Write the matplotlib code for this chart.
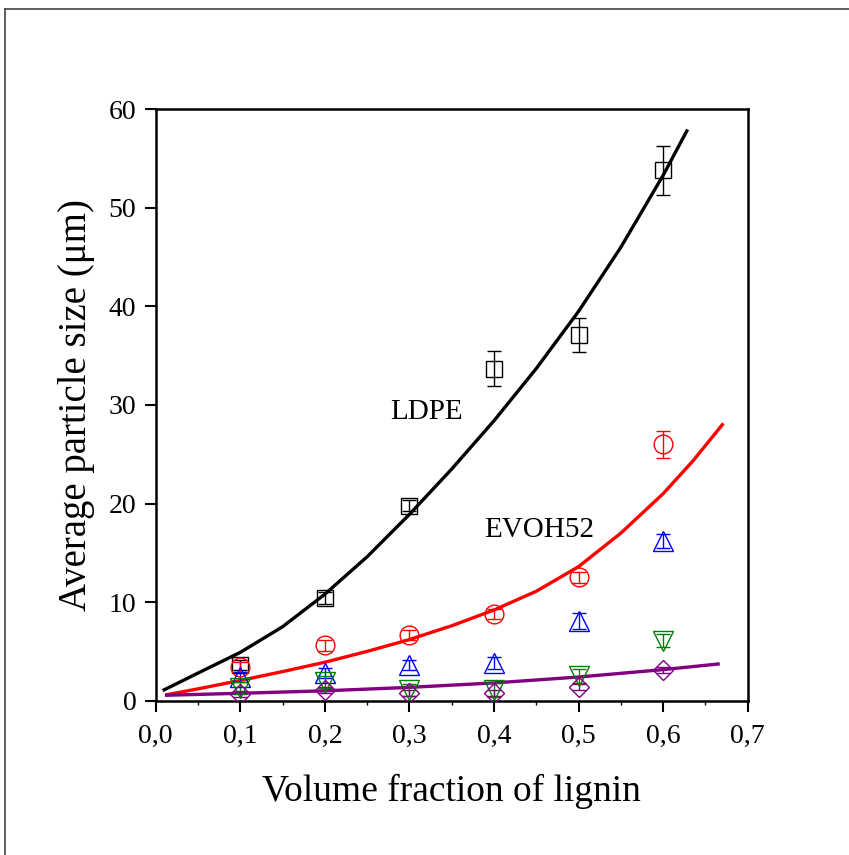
import matplotlib
matplotlib.use('Agg')
import matplotlib.pyplot as plt
from matplotlib.lines import Line2D
import numpy as np

plt.rcParams['font.family'] = ['Liberation Serif', 'DejaVu Serif']

# measured points
frac = [0.1, 0.2, 0.3, 0.4, 0.5, 0.6]

ldpe = [3.6, 10.4, 19.8, 33.7, 37.1, 53.8]
ldpe_err = [0.5, 0.6, 0.6, 1.8, 1.7, 2.45]

evoh = [3.4, 5.6, 6.7, 8.8, 12.5, 26.0]
evoh_err = [0.5, 0.6, 0.5, 0.5, 0.6, 1.35]

blue = [2.4, 2.8, 3.6, 3.85, 8.1, 16.2]
blue_err = [0.5, 0.5, 0.5, 0.6, 0.8, 0.7]

green = [1.3, 1.9, 1.1, 1.1, 2.5, 6.1]
green_err = [0.6, 0.6, 0.6, 0.7, 0.7, 0.7]

purple = [0.7, 1.1, 0.8, 0.8, 1.4, 3.1]
purple_err = [0.3, 0.3, 0.3, 0.3, 0.3, 0.3]

# fitted curves
ldpe_fit_x = [0.01, 0.05, 0.1, 0.15, 0.2, 0.25, 0.3, 0.35, 0.4, 0.45, 0.5, 0.55, 0.6, 0.628]
ldpe_fit_y = [1.1, 2.8, 4.9, 7.5, 10.8, 14.6, 18.9, 23.5, 28.4, 33.7, 39.5, 46.0, 53.3, 57.8]

evoh_fit_x = [0.013, 0.05, 0.1, 0.15, 0.2, 0.25, 0.3, 0.35, 0.4, 0.45, 0.5, 0.55, 0.6, 0.635, 0.67]
evoh_fit_y = [0.6, 1.2, 2.05, 2.95, 3.9, 5.0, 6.2, 7.6, 9.2, 11.1, 13.6, 17.0, 21.0, 24.3, 28.0]

purple_fit_x = [0.013, 0.1, 0.2, 0.3, 0.4, 0.5, 0.6, 0.665]
purple_fit_y = [0.55, 0.75, 1.0, 1.35, 1.8, 2.4, 3.15, 3.72]

xticks = [0.0, 0.1, 0.2, 0.3, 0.4, 0.5, 0.6, 0.7]
xticklabels = ['0,0', '0,1', '0,2', '0,3', '0,4', '0,5', '0,6', '0,7']
yticks = [0, 10, 20, 30, 40, 50, 60]


def main():
    fig = plt.figure(figsize=(8.49, 8.55), dpi=100)
    ax = fig.add_axes([0.1834, 0.1805, 0.6973, 0.6917])

    ax.plot(ldpe_fit_x, ldpe_fit_y, color='black', lw=2.4, zorder=3)
    ax.plot(evoh_fit_x, evoh_fit_y, color='#ff0000', lw=2.4, zorder=3)
    ax.plot(purple_fit_x, purple_fit_y, color='#800080', lw=2.4, zorder=3)

    series = [
        (ldpe, ldpe_err, 's', 'black', 12),
        (evoh, evoh_err, 'o', '#ff0000', 13.5),
        (blue, blue_err, '^', '#0000ff', 14.5),
        (green, green_err, 'v', '#008000', 14.5),
        (purple, purple_err, 'D', '#800080', 10.5),
    ]
    for y, err, m, c, ms in series:
        ax.errorbar(frac, y, yerr=err, fmt=m, mfc='none', mec=c, ms=ms,
                    mew=1.0, ecolor=c, elinewidth=1.0, capsize=5,
                    capthick=1.0, zorder=4)

    ax.text(0.32, 29.3, 'LDPE', fontsize=21, ha='center', va='center')
    ax.text(0.454, 17.3, 'EVOH52', fontsize=21, ha='center', va='center')

    ax.set_xlim(0, 0.7)
    ax.set_ylim(0, 60)
    ax.set_xticks(xticks)
    ax.set_xticklabels(xticklabels)
    ax.set_yticks(yticks)
    ax.set_xticks(np.arange(0.05, 0.7, 0.1), minor=True)
    ax.tick_params(axis='both', which='major', direction='out', length=8,
                   width=1.5, labelsize=20)
    ax.tick_params(axis='x', which='major', pad=9)
    ax.tick_params(axis='y', which='major', pad=6)
    ax.tick_params(axis='x', which='minor', direction='out', length=3,
                   width=1.0)
    for s in ax.spines.values():
        s.set_linewidth(1.8)

    ax.set_xlabel('Volume fraction of lignin', fontsize=27, labelpad=18)
    ax.set_ylabel('Average particle size (\u03bcm)', fontsize=28, labelpad=10)

    # outer frame, only left and top edges are within the picture
    fig.add_artist(Line2D([5 / 849, 5 / 849], [0, 1 - 9 / 855],
                          color='#444444', lw=1.2))
    fig.add_artist(Line2D([5 / 849, 1], [1 - 9 / 855, 1 - 9 / 855],
                          color='#444444', lw=1.2))

    fig.savefig('out.png', dpi=100)


if __name__ == '__main__':
    main()
